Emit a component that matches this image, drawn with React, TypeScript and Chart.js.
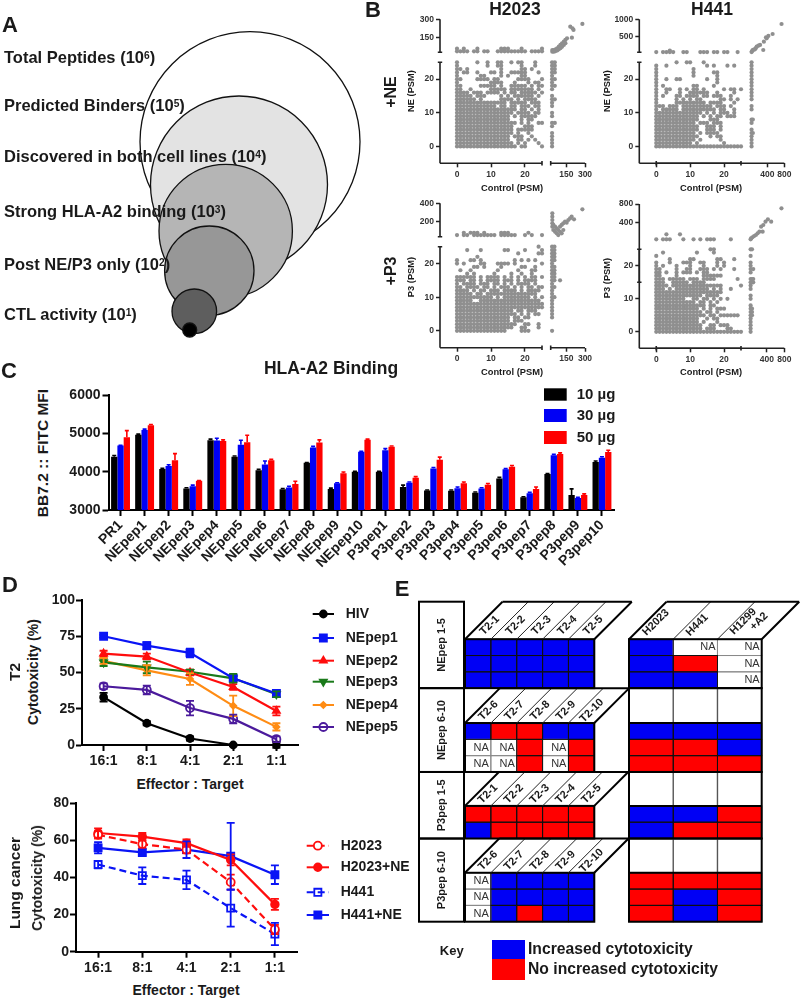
import React, { useEffect, useRef } from "react";
import { Chart, registerables, LinearScale } from "chart.js";
import { drawPoint } from "chart.js/helpers";

class BrokenScale extends (LinearScale as any) {
  static id = "broken";
  configure() {
    super.configure();
    (this as any)._segs = ((this as any).options.segs as any[]).map((s: any) => ({ lo: s.lo, hi: s.hi, f0: s.f0, f1: s.f1 }));
  }
  getPixelForValue(v: number) {
    const segs = (this as any)._segs;
    for (let i = 0; i < segs.length; i++) {
      const s = segs[i];
      if (v <= s.hi || i === segs.length - 1) {
        return (this as any).getPixelForDecimal(s.f0 + ((v - s.lo) / (s.hi - s.lo)) * (s.f1 - s.f0));
      }
    }
    return NaN;
  }
}
Chart.register(...registerables, BrokenScale as any);
const FONT = '"Liberation Sans", Arial, sans-serif';
Chart.defaults.font.family = FONT;
Chart.defaults.layout.autoPadding = false;

/* ---------- Panel A ---------- */
const funnelLabels = ["Total Peptides", "Predicted Binders", "Discovered in both cell lines", "Strong HLA-A2 binding", "Post NE/P3 only", "CTL activity"];
const funnelExponents = [6, 5, 4, 3, 2, 1];
const funnelCircleX = [250, 239, 225.7, 209.3, 194.3, 189.7];
const funnelCircleY = [141.7, 184.5, 231, 270.7, 311.3, 330];
const funnelCircleR = [110, 88.5, 66.7, 44.7, 22.3, 7];
const funnelFill = ["#ffffff", "#e3e3e3", "#b5b5b5", "#979797", "#5e5e5e", "#000000"];

/* ---------- Panel B, top row is y=25, bottom row is y=0 ---------- */
const h2023NeRows = [
  "#.....#..#..##..#.##...#..",
  "#........#..##.....#...#..",
  "##.#.........#.....##.#...",
  "#.##..#...##.#..#####...#.",
  "#......##....#.#...##.....",
  "##....####.##.....####...#",
  "#.........####...#...#.##.",
  "##.....#####.#..#####.#.##",
  "##..#.....#####.#######.#.",
  "####.###.####.#.##.#####.#",
  "#####.###....#.#.######.#.",
  "######.#.....####.#.####..",
  "###############.#####.###.",
  "############.##.##.###.##.",
  "##################.##.#.#.",
  "#################.####.##.",
  "################.#.#####..",
  "################...#.##...",
  "##################.#.#..##",
  "#################...###...",
  "#################.#####...",
  "#################.#..#....",
  "################.###..#...",
  "################..##.#.#..",
  "#################.#.#...#.",
  "##################.##....#",
];
const h441NeRows = [
  "......#..##...#...........",
  "#..#...........#.#...#.#..",
  "#..........#..............",
  "#..........#.....##.......",
  "#..........#......#.......",
  "#..#..##.......#..#.......",
  "#.................#.......",
  "#.#........##....#........",
  "#..##..#.#.##.#.....#.##.#",
  "#..#...#..######..#....#..",
  "#.#...##.####.##.###..#...",
  "#.....#.#.#.##.....##.#.#.",
  "#.....#########.####...#..",
  "###.###.#########.###.#...",
  "#.#####.##########.##..#..",
  "##############.#.#.###.#..",
  "#############.#.#.##.###..",
  "#############...###.......",
  "############.###.###......",
  "#############..###.#......",
  "#############..###.#......",
  "############.#.####.......",
  "#############...#.##......",
  "############.#.....#......",
  "###########.#.......#.....",
  "##########################",
];
const h2023P3Rows = [
  "........................#.",
  "...#...#......##....#....#",
  "..................#.....##",
  "......#...................",
  "#...##.#.........#.#.#.#..",
  "#.#....##...####.#.......#",
  ".....##.#....#.....##..#..",
  ".#..#.......#.....#...##..",
  "...#.#.....#....#..#..#...",
  "######.#.####.#.#.#.#.##.#",
  "###.##.#.####.###.#.####..",
  "#.####.###.##.#.#.####.#..",
  "##.####.##.#.###.#.#.##.##",
  "####.#.##.###.####.#.####.",
  "#####.##.###############..",
  "###########.#.########.#.#",
  "#####..##################.",
  "##########################",
  "##########################",
  "#################.##.###..",
  "##################.#.#.##.",
  "################.##.##....",
  "################.###......",
  "##################..##..#.",
  "#################..##...#.",
  "###############....###....",
];
const h441P3Rows = [
  "................##........",
  "..#.........#....#........",
  "#.........................",
  "....#.....##......##...#..",
  "#...#...###..##...#.#.....",
  "#.#...#...#...#...#.#.....",
  "##....#..##..###.#.#...#..",
  "##.#..#.###.#.##..........",
  "##....#.......######......",
  "###.#####.###.####......#.",
  "###..#####.####...........",
  "####.###############.....#",
  "###.#.##########.#.#..#...",
  "####################......",
  "##############.####.......",
  "#########..##.##.#.#.#....",
  "############.##.#.#.......",
  "###############.##........",
  "#############.#.#.###.....",
  "##############.##.#.......",
  "###############.##.######.",
  "#############..#.##.......",
  "#############.#...#.......",
  "##############..##.###....",
  "##############.###...##...",
  "##########################",
];
// points above the y break, x = 0..25
const h2023NeTop: [number, string][] = [[60, "#.#...#......###...#.....#"], [38, "####.##.##..#########.####"]];
const h441NeTop: [number, string][] = [[100, "....#....................."], [55, "#.####..##...###.##.##..#."]];
const h2023P3Top: [number, string][] = [[74, "..#.###.#....###.....#...."], [48, "#.##.#######.#####..#.#..#"]];
const h441P3Top: [number, string][] = [[139, "...#...#.................."], [30, "#.###...#..#.#.###....#..."]];
// points right of the x break, y index 0..25
const h2023NeRight: [number, string][] = [[36, "#####.##.##.####.#########"], [58, ".......#......#...#.#.####"]];
const h441NeRight: [number, string][] = [[30, "######.##..##.############"], [60, "....#...#................."]];
const h2023P3Right: [number, string][] = [[36, "#...######################"], [55, "..........#..#.#####.#####"]];
const h441P3Right: [number, string][] = [[30, "#########.##.####.####.#.#"], [62, ".....###.......##........#"]];
// points above both breaks
const h2023NeCluster = [[38, 35], [38, 49], [51, 35], [51, 49], [64, 54], [64, 40], [77, 63], [77, 45], [90, 76], [90, 54], [103, 90], [103, 63], [116, 104], [116, 76], [130, 117], [130, 90], [143, 131], [143, 104], [156, 145], [195, 150], [182, 240], [208, 213], [200, 226], [279, 262]];
const h441NeCluster = [[30, 55], [40, 75], [55, 115], [80, 125], [110, 135], [130, 170], [150, 210], [190, 240], [230, 260], [305, 115], [320, 355], [370, 480], [385, 450], [425, 520], [525, 576], [735, 864]];
const h2023P3Cluster = [[38, 289], [38, 252], [38, 215], [38, 178], [38, 141], [46, 160], [46, 104], [60, 141], [60, 85], [73, 122], [73, 67], [86, 104], [86, 48], [100, 141], [100, 85], [113, 160], [113, 67], [126, 178], [126, 104], [153, 185], [140, 196], [166, 215], [180, 233], [193, 252], [212, 222], [279, 333]];
const h441P3Cluster = [[30, 30], [40, 50], [70, 73], [110, 100], [150, 124], [190, 160], [230, 197], [305, 197], [270, 306], [320, 342], [370, 415], [425, 466], [500, 415], [735, 706]];

/* ---------- Panel C ---------- */
const bindingPeptides = ["PR1", "NEpep1", "NEpep2", "NEpep3", "NEpep4", "NEpep5", "NEpep6", "NEpep7", "NEpep8", "NEpep9", "NEpep10", "P3pep1", "P3pep2", "P3pep3", "P3pep4", "P3pep5", "P3pep6", "P3pep7", "P3pep8", "P3pep9", "P3pep10"];
const bind10 = [4390, 4960, 4070, 3560, 4820, 4390, 4040, 3540, 4230, 3550, 4000, 4000, 3600, 3510, 3500, 3450, 3820, 3330, 3940, 3390, 4250];
const bind30 = [4680, 5090, 4150, 3620, 4810, 4700, 4190, 3590, 4630, 3700, 4520, 4560, 3710, 4080, 3570, 3560, 4060, 3440, 4430, 3310, 4360];
const bind50 = [4900, 5210, 4300, 3760, 4800, 4770, 4300, 3680, 4760, 3960, 4830, 4650, 3840, 4310, 3700, 3660, 4130, 3550, 4460, 3390, 4510];
const bindErr10 = [30, 20, 20, 20, 30, 20, 20, 20, 10, 20, 10, 10, 50, 10, 20, 20, 30, 15, 10, 160, 30];
const bindErr30 = [10, 20, 30, 30, 60, 120, 90, 30, 30, 10, 10, 40, 20, 30, 30, 20, 20, 20, 20, 20, 30];
const bindErr50 = [170, 20, 170, 10, 30, 180, 20, 70, 70, 30, 20, 20, 30, 70, 30, 30, 30, 50, 30, 30, 50];

/* ---------- Panel D ---------- */
const ratios = ["16:1", "8:1", "4:1", "2:1", "1:1"];
const hiv = [33, 15, 4.5, 0, 0];
const hivErr = [3, 1.5, 1.5, 0.5, 2];
const nepep1 = [75, 68.5, 63.5, 46, 35.5];
const nepep1Err = [1, 2.5, 3, 2, 2];
const nepep2 = [63, 61, 50, 40, 23.5];
const nepep2Err = [2, 2, 2, 2, 3];
const nepep3 = [57, 53.5, 50.5, 46, 35];
const nepep3Err = [2.5, 4, 1.5, 3, 2];
const nepep4 = [58, 51.5, 45.5, 27, 12.5];
const nepep4Err = [2, 3.5, 4, 7, 2.5];
const nepep5 = [40.5, 38, 25.5, 18, 4];
const nepep5Err = [2, 3, 5, 3, 2];

const h2023 = [63, 58, 55, 37.5, 12];
const h2023Err = [2, 2, 2, 4, 2.5];
const h2023Ne = [64, 62, 58.5, 49.5, 25.5];
const h2023NeErr = [2.5, 2, 2, 3, 3];
const h441 = [47, 41, 38.7, 23.5, 9.5];
const h441Err = [2, 4.5, 5, 10, 6];
const h441Ne = [56, 53.5, 55, 51.5, 41.5];
const h441NeErr = [3, 1.5, 4.5, 18, 5];

/* ---------- Panel E ---------- */
const blockNames = ["NEpep 1-5", "NEpep 6-10", "P3pep 1-5", "P3pep 6-10"];
const blockRowCounts = [3, 3, 2, 3];
const headerHeights = [2.3, 2.14, 2.08, 2.1];
const t2Columns = [["T2-1", "T2-2", "T2-3", "T2-4", "T2-5"], ["T2-6", "T2-7", "T2-8", "T2-9", "T2-10"], ["T2-1", "T2-2", "T2-3", "T2-4", "T2-5"], ["T2-6", "T2-7", "T2-8", "T2-9", "T2-10"]];
const lungColumns = ["H2023", "H441", "H1299+A2"];
const t2Cells = ["BBBBB", "BBBBB", "BBBBB", "BRRBB", "NNRNR", "NNRNR", "RRRRR", "BRRRR", "NBBBB", "NBBBB", "NBRBB"];
const lungCells = ["BNN", "BRN", "BBN", "BBB", "RRB", "RRR", "BBR", "BRR", "RRR", "RBR", "RBR"];
const cellColor: Record<string, string> = { B: "#0000f5", R: "#ff0000", N: "#ffffff" };

/* ---------- helpers ---------- */
const fix = (w: number | null, h: number | null) => (s: any) => {
  if (w !== null) s.width = w;
  if (h !== null) s.height = h;
  s.paddingLeft = s.paddingRight = s.paddingTop = s.paddingBottom = 0;
};

const rowPoints = (rows: string[]) => {
  const out: { x: number; y: number }[] = [];
  rows.forEach((r, i) => r.split("").forEach((c, x) => { if (c === "#") out.push({ x, y: 25 - i }); }));
  return out;
};
const topPoints = (rows: [number, string][]) => {
  const out: { x: number; y: number }[] = [];
  rows.forEach(([y, r]) => r.split("").forEach((c, x) => { if (c === "#") out.push({ x, y }); }));
  return out;
};
const rightPoints = (cols: [number, string][]) => {
  const out: { x: number; y: number }[] = [];
  cols.forEach(([x, r]) => r.split("").forEach((c, y) => { if (c === "#") out.push({ x, y }); }));
  return out;
};

const breakAxes = {
  id: "breakAxes",
  afterDraw(chart: any) {
    const { ctx, chartArea: a } = chart;
    ctx.save();
    ctx.strokeStyle = "#222";
    ctx.lineWidth = 1.6;
    const xs = chart.scales.x._segs, ys = chart.scales.y._segs;
    const cap = 2.2;
    xs.forEach((s: any, i: number) => {
      const p0 = chart.scales.x.getPixelForValue(s.lo + (i ? 0.001 : 0)), p1 = chart.scales.x.getPixelForValue(s.hi);
      ctx.beginPath(); ctx.moveTo(p0, a.bottom); ctx.lineTo(p1, a.bottom);
      if (i === 0) { ctx.moveTo(p1, a.bottom - cap); ctx.lineTo(p1, a.bottom + cap); }
      else { ctx.moveTo(p0, a.bottom - cap); ctx.lineTo(p0, a.bottom + cap); }
      ctx.stroke();
    });
    ys.forEach((s: any, i: number) => {
      const p0 = chart.scales.y.getPixelForValue(s.lo + (i ? 0.001 : 0)), p1 = chart.scales.y.getPixelForValue(s.hi);
      ctx.beginPath(); ctx.moveTo(a.left, p0); ctx.lineTo(a.left, p1);
      if (i === 0) { ctx.moveTo(a.left - cap, p1); ctx.lineTo(a.left + cap, p1); }
      else { ctx.moveTo(a.left - cap, p0); ctx.lineTo(a.left + cap, p0); }
      ctx.stroke();
    });
    ctx.restore();
  },
};

const errorBars = (capHalf: number, upOnly: boolean, width: number) => ({
  id: "errorBars",
  afterDatasetsDraw(chart: any) {
    const { ctx } = chart;
    ctx.save();
    chart.data.datasets.forEach((ds: any, di: number) => {
      if (!ds.errors) return;
      const meta = chart.getDatasetMeta(di);
      const y = chart.scales.y;
      ctx.strokeStyle = ds.errorColor || ds.borderColor || ds.backgroundColor;
      ctx.lineWidth = width;
      ctx.setLineDash([]);
      meta.data.forEach((el: any, i: number) => {
        const v = ds.data[i], e = ds.errors[i];
        const hi = y.getPixelForValue(v + e), lo = y.getPixelForValue(upOnly ? v : v - e);
        ctx.beginPath();
        ctx.moveTo(el.x, lo); ctx.lineTo(el.x, hi);
        ctx.moveTo(el.x - capHalf, hi); ctx.lineTo(el.x + capHalf, hi);
        if (!upOnly) { ctx.moveTo(el.x - capHalf, lo); ctx.lineTo(el.x + capHalf, lo); }
        ctx.stroke();
      });
    });
    ctx.restore();
  },
});

// legend positions below are page coordinates: the canvas offset is taken off when drawing
const lineLegend = (cv: any, x0: number, x1: number, tx: number, ys: number[], font: string) => ({
  id: "lineLegend",
  afterDraw(chart: any) {
    const { ctx } = chart;
    ctx.save();
    ctx.translate(-cv.left, -cv.top);
    chart.data.datasets.forEach((ds: any, i: number) => {
      const y = ys[i];
      ctx.setLineDash(ds.borderDash || []);
      ctx.strokeStyle = ds.borderColor;
      ctx.lineWidth = 2;
      ctx.beginPath(); ctx.moveTo(x0, y); ctx.lineTo(x1, y); ctx.stroke();
      ctx.setLineDash([]);
      ctx.fillStyle = ds.pointBackgroundColor;
      ctx.strokeStyle = ds.borderColor;
      ctx.lineWidth = 1.8;
      drawPoint(ctx, { pointStyle: ds.pointStyle, rotation: ds.pointRotation || 0, radius: ds.pointRadius, borderWidth: 1.8 } as any, (x0 + x1) / 2, y);
      ctx.fillStyle = "#1a1a1a";
      ctx.font = font;
      ctx.textAlign = "left";
      ctx.textBaseline = "middle";
      ctx.fillText(ds.label, tx, y);
    });
    ctx.restore();
  },
});

const boxLegend = (cv: any, x0: number, x1: number, tx: number, rows: [number, number][], font: string) => ({
  id: "boxLegend",
  afterDraw(chart: any) {
    const { ctx } = chart;
    ctx.save();
    ctx.translate(-cv.left, -cv.top);
    chart.data.datasets.forEach((ds: any, i: number) => {
      const [t, b] = rows[i];
      ctx.fillStyle = ds.backgroundColor;
      ctx.fillRect(x0, t, x1 - x0, b - t);
      ctx.fillStyle = "#1a1a1a";
      ctx.font = font;
      ctx.textAlign = "left";
      ctx.textBaseline = "middle";
      ctx.fillText(ds.label, tx, (t + b) / 2);
    });
    ctx.restore();
  },
});

/* ---------- chart configs (canvas rect + config) ---------- */
const base = { responsive: false, animation: false as const, events: [] as any[] };

function funnelConfig() {
  return {
    type: "bubble",
    data: {
      datasets: [{
        label: "Peptide funnel",
        data: funnelExponents.map((_, i) => ({ x: funnelCircleX[i], y: funnelCircleY[i], r: funnelCircleR[i] })),
        backgroundColor: funnelFill,
        borderColor: "#111",
        borderWidth: 1.3,
        clip: false,
      }],
    },
    options: {
      ...base,
      layout: { autoPadding: false, padding: 0 },
      plugins: { legend: { display: false }, tooltip: { enabled: false } },
      scales: {
        x: { type: "linear", min: 0, max: 400, display: false },
        y: { type: "linear", min: 0, max: 350, reverse: true, display: false },
      },
    },
  };
}

type BP = { l: number; t: number; r: number; b: number; xa: number; xb: number; ya: number; yb: number; x2Min: number; xMax: number; y2Min: number; yMax: number; xTicks: number[]; yTicks: number[]; pts: any[] };

function brokenConfig(p: BP, cv: { left: number; top: number; width: number; height: number }) {
  const W = p.r - p.l, H = p.b - p.t;
  const tick = { font: { size: 8.5, weight: "bold" }, color: "#333", autoSkip: false, maxRotation: 0, minRotation: 0, padding: 2, callback: (v: any) => String(v) };
  const grid = { drawOnChartArea: false, tickLength: 4, tickColor: "#222", tickWidth: 1.5 };
  return {
    type: "scatter",
    data: { datasets: [{ label: "peptides", data: p.pts, pointRadius: 2.1, pointBackgroundColor: "#8f8f8f", pointBorderWidth: 0, showLine: false, clip: false }] },
    options: {
      ...base,
      layout: { autoPadding: false, padding: { top: p.t - cv.top, right: cv.left + cv.width - p.r, left: 0, bottom: 0 } },
      plugins: { legend: { display: false }, tooltip: { enabled: false } },
      scales: {
        x: {
          type: "broken", min: -5, max: p.xMax,
          segs: [{ lo: -5, hi: 25, f0: 0, f1: (p.xa - p.l) / W }, { lo: p.x2Min, hi: p.xMax, f0: (p.xb - p.l) / W, f1: 1 }],
          afterBuildTicks: (s: any) => { s.ticks = p.xTicks.map((value) => ({ value })); },
          afterFit: fix(null, cv.top + cv.height - p.b),
          ticks: tick, grid, border: { display: false },
        },
        y: {
          type: "broken", min: -5, max: p.yMax,
          segs: [{ lo: -5, hi: 25, f0: 0, f1: (p.b - p.ya) / H }, { lo: p.y2Min, hi: p.yMax, f0: (p.b - p.yb) / H, f1: 1 }],
          afterBuildTicks: (s: any) => { s.ticks = p.yTicks.map((value) => ({ value })); },
          afterFit: fix(p.l - cv.left, null),
          ticks: tick, grid, border: { display: false },
        },
      },
    },
    plugins: [breakAxes],
  };
}

function rect(l: number, t: number, r: number, b: number) { return { left: l, top: t, width: r - l, height: b - t }; }

const brokenPanels: { p: BP; cv: any }[] = [
  { cv: rect(400, 8, 600, 186), p: { l: 440, t: 19.3, r: 585, b: 163.3, xa: 542, xb: 550.7, ya: 62.3, yb: 52.3, x2Min: 25, xMax: 300, y2Min: 30, yMax: 300, xTicks: [0, 10, 20, 150, 300], yTicks: [0, 10, 20, 150, 300], pts: [...rowPoints(h2023NeRows), ...topPoints(h2023NeTop), ...rightPoints(h2023NeRight), ...h2023NeCluster.map(([x, y]) => ({ x, y }))] } },
  { cv: rect(600, 8, 796, 186), p: { l: 639.3, t: 19.3, r: 784.3, b: 163.3, xa: 741, xb: 750.3, ya: 62.3, yb: 52.3, x2Min: 0, xMax: 800, y2Min: 48, yMax: 1000, xTicks: [0, 10, 20, 400, 800], yTicks: [0, 10, 20, 500, 1000], pts: [...rowPoints(h441NeRows), ...topPoints(h441NeTop), ...rightPoints(h441NeRight), ...h441NeCluster.map(([x, y]) => ({ x, y }))] } },
  { cv: rect(400, 194, 600, 370), p: { l: 440, t: 203.3, r: 585, b: 347.7, xa: 542, xb: 550.7, ya: 246.7, yb: 236.7, x2Min: 25, xMax: 300, y2Min: 30, yMax: 400, xTicks: [0, 10, 20, 150, 300], yTicks: [0, 10, 20, 200, 400], pts: [...rowPoints(h2023P3Rows), ...topPoints(h2023P3Top), ...rightPoints(h2023P3Right), { x: 100, y: 15 }, ...h2023P3Cluster.map(([x, y]) => ({ x, y }))] } },
  { cv: rect(600, 194, 796, 370), p: { l: 639.3, t: 204, r: 784.3, b: 348.3, xa: 741, xb: 749.3, ya: 249.3, yb: 240, x2Min: 0, xMax: 800, y2Min: 15, yMax: 800, xTicks: [0, 10, 20, 400, 800], yTicks: [0, 10, 20, 400, 800], pts: [...rowPoints(h441P3Rows), ...topPoints(h441P3Top), ...rightPoints(h441P3Right), { x: 90, y: 15 }, { x: 90, y: 16 }, { x: 90, y: 19 }, ...h441P3Cluster.map(([x, y]) => ({ x, y }))] } },
];

function bindingConfig() {
  const cv = { left: 60, top: 380, right: 622, bottom: 575 };
  const font = { size: 14, weight: "bold" };
  const box = rect(cv.left, cv.top, cv.right, cv.bottom);
  const mk = (label: string, data: number[], errors: number[], color: string) => ({ label, data, errors, backgroundColor: color, errorColor: color, categoryPercentage: 0.785, barPercentage: 1 });
  return {
    cv: box,
    cfg: {
      type: "bar",
      data: { labels: bindingPeptides, datasets: [mk("10 µg", bind10, bindErr10, "#000000"), mk("30 µg", bind30, bindErr30, "#0000f5"), mk("50 µg", bind50, bindErr50, "#ff0000")] },
      options: {
        ...base,
        layout: { autoPadding: false, padding: { top: 395 - cv.top, right: cv.right - 614, left: 0, bottom: 0 } },
        plugins: { legend: { display: false }, tooltip: { enabled: false } },
        scales: {
          x: {
            grid: { drawOnChartArea: false, offset: false, tickLength: 6, tickColor: "#000", tickWidth: 2 },
            border: { color: "#000", width: 2 },
            ticks: { font, color: "#1a1a1a", autoSkip: false, minRotation: 45, maxRotation: 45, padding: 1 },
            afterFit: fix(null, cv.bottom - 510),
          },
          y: {
            min: 3000, max: 6000,
            grid: { drawOnChartArea: false, tickLength: 6, tickColor: "#000", tickWidth: 2 },
            border: { color: "#000", width: 2 },
            ticks: { font, color: "#1a1a1a", stepSize: 1000, padding: 2, callback: (v: any) => String(v) },
            afterFit: fix(108.5 - cv.left, null),
          },
        },
      },
      plugins: [errorBars(2, true, 1.6), boxLegend(box, 544, 566.7, 576.7, [[388.3, 400.7], [409, 422], [431, 444]], `bold 15px ${FONT}`)],
    },
  };
}

function lineConfig(o: { cv: any; area: any; yMax: number; step: number; datasets: any[]; legend: any }) {
  const font = { size: 14, weight: "bold" };
  const { cv, area } = o;
  const grid = { drawOnChartArea: false, tickLength: 6, tickColor: "#000", tickWidth: 2 };
  return {
    type: "line",
    data: { labels: ratios, datasets: o.datasets },
    options: {
      ...base,
      layout: { autoPadding: false, padding: { top: area.t - cv.top, right: cv.left + cv.width - area.r, left: 0, bottom: 0 } },
      plugins: { legend: { display: false }, tooltip: { enabled: false } },
      scales: {
        x: { offset: true, grid, border: { color: "#000", width: 2 }, ticks: { font, color: "#1a1a1a", padding: 2, maxRotation: 0 }, afterFit: fix(null, cv.top + cv.height - area.b) },
        y: { min: 0, max: o.yMax, grid, border: { color: "#000", width: 2 }, ticks: { font, color: "#1a1a1a", stepSize: o.step, padding: 1 }, afterFit: fix(area.l - cv.left, null) },
      },
    },
    plugins: [errorBars(4, false, 1.8), o.legend],
  };
}

const series = (label: string, data: number[], errors: number[], color: string, style: string, r: number, extra: any = {}) => ({
  label, data, errors, borderColor: color, errorColor: color, borderWidth: 2.2, tension: 0,
  pointStyle: style, pointRadius: r, pointBackgroundColor: color, pointBorderColor: color, pointBorderWidth: 1.8, clip: false, ...extra,
});

const t2Box = rect(45, 590, 410, 768);
const lungBox = rect(40, 793, 410, 975);
const t2Chart = lineConfig({
  cv: t2Box, area: { l: 82, r: 298, t: 600, b: 745 }, yMax: 100, step: 25,
  datasets: [
    series("HIV", hiv, hivErr, "#000000", "circle", 3.5),
    series("NEpep1", nepep1, nepep1Err, "#0a14f5", "rect", 5),
    series("NEpep2", nepep2, nepep2Err, "#ff0d0d", "triangle", 4),
    series("NEpep3", nepep3, nepep3Err, "#1a7a1a", "triangle", 4, { pointRotation: 180 }),
    series("NEpep4", nepep4, nepep4Err, "#ff8c14", "rectRot", 3),
    series("NEpep5", nepep5, nepep5Err, "#4b1a9c", "circle", 4, { pointBackgroundColor: "rgba(0,0,0,0)" }),
  ],
  legend: lineLegend(t2Box, 312.7, 334, 345.7, [614, 638, 660.7, 681.7, 705, 727], `bold 14px ${FONT}`),
});
const lungChart = lineConfig({
  cv: lungBox, area: { l: 76, r: 297, t: 803.3, b: 951.7 }, yMax: 80, step: 20,
  datasets: [
    series("H2023", h2023, h2023Err, "#ff0d0d", "circle", 4, { pointBackgroundColor: "#ffffff", borderDash: [7, 4] }),
    series("H2023+NE", h2023Ne, h2023NeErr, "#ff0d0d", "circle", 3.8),
    series("H441", h441, h441Err, "#0a14f5", "rect", 5, { pointBackgroundColor: "rgba(0,0,0,0)", borderDash: [7, 4] }),
    series("H441+NE", h441Ne, h441NeErr, "#0a14f5", "rect", 5),
  ],
  legend: lineLegend(lungBox, 306.7, 329, 340.7, [845.7, 867.3, 892.3, 915], `bold 14px ${FONT}`),
});

/* Panel E : stacked bars, one dataset per row, the first block's header included */
function gridDatasets(cells: string[], cols: number) {
  const out: any[] = [];
  let r = 0;
  blockRowCounts.forEach((n, b) => {
    out.push({ label: "header " + b, data: Array(cols).fill(headerHeights[b]), backgroundColor: "rgba(0,0,0,0)", header: true });
    for (let i = 0; i < n; i++, r++) {
      out.push({ label: "row " + r, data: Array(cols).fill(1), backgroundColor: cells[r].split("").map((c) => cellColor[c]), codes: cells[r] });
    }
  });
  return out;
}

function blockBounds() {
  let u = 0;
  return blockRowCounts.map((n, b) => {
    const top = u, dataTop = u + headerHeights[b], bottom = dataTop + n;
    u = bottom;
    return { top, dataTop, bottom };
  });
}
const totalUnits = blockRowCounts.reduce((a, b) => a + b, 0) + headerHeights.reduce((a, b) => a + b, 0);

function strokeCells(chart: any) {
  const { ctx } = chart;
  const pass = (na: boolean) => chart.data.datasets.forEach((ds: any, di: number) => {
    if (!ds.codes) return;
    chart.getDatasetMeta(di).data.forEach((el: any, i: number) => {
      const isNa = ds.codes[i] === "N";
      if (isNa !== na) return;
      ctx.strokeStyle = na ? "#8a8a8a" : "#101010";
      ctx.lineWidth = 1;
      ctx.strokeRect(el.x - el.width / 2, el.y, el.width, el.base - el.y);
      if (na) {
        ctx.fillStyle = "#333";
        ctx.font = `11px ${FONT}`;
        ctx.textAlign = "right";
        ctx.textBaseline = "middle";
        ctx.fillText("NA", el.x + el.width / 2 - 2, (el.y + el.base) / 2);
      }
    });
  });
  pass(true);
  pass(false);
}

function rotLabel(ctx: any, text: string, x: number, y: number, angle: number, font: string) {
  ctx.save();
  ctx.translate(x, y);
  ctx.rotate(angle);
  ctx.fillStyle = "#1a1a1a";
  ctx.font = font;
  ctx.textAlign = "center";
  ctx.textBaseline = "middle";
  ctx.fillText(text, 0, 0);
  ctx.restore();
}

const thick = (ctx: any) => { ctx.strokeStyle = "#000"; ctx.lineWidth = 2; };
const thin = (ctx: any) => { ctx.strokeStyle = "#222"; ctx.lineWidth = 1; };

const t2Overlay = {
  id: "t2Overlay",
  afterDatasetsDraw(chart: any) {
    const { ctx, chartArea: a, scales } = chart;
    ctx.save();
    strokeCells(chart);
    const y = (u: number) => scales.y.getPixelForValue(u);
    const colW = a.width / 5;
    blockBounds().forEach((b, k) => {
      const top = y(b.top), base = y(b.dataTop), bot = y(b.bottom), h = base - top;
      thick(ctx);
      ctx.strokeRect(a.left, base, a.width, bot - base);
      ctx.strokeRect(a.left - 46, top, 45, bot - top);
      for (let c = 0; c <= 5; c++) {
        const x = a.left + c * colW;
        if (c === 0 || c === 5) thick(ctx); else thin(ctx);
        ctx.beginPath(); ctx.moveTo(x, base); ctx.lineTo(x + h, top); ctx.stroke();
        if (c < 5) rotLabel(ctx, t2Columns[k][c], x + colW / 2 + h / 2 - 7, base - h / 2 + 5, -Math.PI / 4, `bold 11px ${FONT}`);
      }
      thick(ctx);
      ctx.beginPath(); ctx.moveTo(a.left + h, top); ctx.lineTo(a.right + h, top); ctx.stroke();
      rotLabel(ctx, blockNames[k], a.left - 23.5, (top + bot) / 2, -Math.PI / 2, `bold 11px ${FONT}`);
    });
    ctx.restore();
  },
};

const lungOverlay = {
  id: "lungOverlay",
  afterDatasetsDraw(chart: any) {
    const { ctx, chartArea: a, scales } = chart;
    ctx.save();
    strokeCells(chart);
    const y = (u: number) => scales.y.getPixelForValue(u);
    const colW = a.width / 3;
    blockBounds().forEach((b, k) => {
      const top = y(b.top), base = y(b.dataTop), bot = y(b.bottom), h = base - top;
      if (k === 0) {
        for (let c = 0; c <= 3; c++) {
          const x = a.left + c * colW;
          if (c === 0 || c === 3) thick(ctx); else thin(ctx);
          ctx.beginPath(); ctx.moveTo(x, base); ctx.lineTo(x + h, top); ctx.stroke();
        }
        thick(ctx);
        ctx.beginPath(); ctx.moveTo(a.left + h, top); ctx.lineTo(a.right + h, top); ctx.stroke();
        const f = `bold 11px ${FONT}`;
        const mid = (c: number) => a.left + (c + 0.5) * colW + h / 2;
        rotLabel(ctx, lungColumns[0], mid(0) - 14, base - h / 2 + 2, -Math.PI / 4, f);
        rotLabel(ctx, lungColumns[1], mid(1) - 17, base - h / 2 + 4.5, -Math.PI / 4, f);
        rotLabel(ctx, lungColumns[2].slice(0, 5), mid(2) - 15, base - h / 2 + 1, -Math.PI / 4, f);
        rotLabel(ctx, lungColumns[2].slice(5), mid(2) + 0.7, base - h / 2 + 1, -Math.PI / 4, f);
        thick(ctx);
        ctx.strokeRect(a.left, base, a.width, bot - base);
      } else {
        ctx.strokeStyle = "#555"; ctx.lineWidth = 1.4;
        for (let c = 1; c < 3; c++) {
          const x = a.left + c * colW;
          ctx.beginPath(); ctx.moveTo(x, top); ctx.lineTo(x, base); ctx.stroke();
        }
        thick(ctx);
        ctx.strokeRect(a.left, top, a.width, bot - top);
        ctx.beginPath(); ctx.moveTo(a.left, base); ctx.lineTo(a.right, base); ctx.stroke();
      }
    });
    ctx.restore();
  },
};

function gridConfig(labels: string[], cells: string[], overlay: any, cv: any, area: any) {
  return {
    type: "bar",
    data: { labels, datasets: gridDatasets(cells, labels.length) },
    options: {
      ...base,
      layout: { autoPadding: false, padding: { left: area.l - cv.left, right: cv.left + cv.width - area.r, top: area.t - cv.top, bottom: cv.top + cv.height - area.b } },
      datasets: { bar: { categoryPercentage: 1, barPercentage: 1, borderWidth: 0 } },
      plugins: { legend: { display: false }, tooltip: { enabled: false } },
      scales: {
        x: { stacked: true, display: false },
        y: { stacked: true, display: false, reverse: true, min: 0, max: totalUnits },
      },
    },
    plugins: [overlay],
  };
}

/* ---------- React ---------- */
function Panel({ cv, make }: { cv: any; make: () => any }) {
  const ref = useRef<HTMLCanvasElement>(null);
  useEffect(() => {
    const chart = new Chart(ref.current as any, make());
    return () => chart.destroy();
  }, []);
  return <canvas ref={ref} width={cv.width} height={cv.height} style={{ position: "absolute", left: cv.left, top: cv.top, width: cv.width, height: cv.height }} />;
}

function T({ x, y, size, rot = 0, bold = true, anchor = "center", children }: any) {
  const tx = anchor === "left" ? "0" : "-50%";
  return (
    <div style={{ position: "absolute", left: x, top: y, transform: `translate(${tx},-50%) rotate(${rot}deg)`, fontSize: size, fontWeight: bold ? 700 : 400, fontFamily: FONT, color: "#1a1a1a", whiteSpace: "nowrap", lineHeight: 1 }}>
      {children}
    </div>
  );
}

const funnelTextY = [57.3, 105, 156, 211, 264.3, 314];

export default function App() {
  useEffect(() => { document.body.style.margin = "0"; }, []);
  const cLeft = rect(415, 595, 640, 928);
  const cRight = rect(622, 595, 800, 928);
  const binding = bindingConfig();
  return (
    <div style={{ position: "relative", width: 800, height: 998, background: "#fff", overflow: "hidden", filter: "blur(0.45px)" }}>
      <Panel cv={rect(0, 0, 400, 350)} make={funnelConfig} />
      {brokenPanels.map((b, i) => <Panel key={i} cv={b.cv} make={() => brokenConfig(b.p, b.cv)} />)}
      <Panel cv={binding.cv} make={() => binding.cfg} />
      <Panel cv={t2Box} make={() => t2Chart} />
      <Panel cv={lungBox} make={() => lungChart} />
      <Panel cv={cRight} make={() => gridConfig(lungColumns, lungCells, lungOverlay, cRight, { l: 629, r: 761.7, t: 601.7, b: 921.7 })} />
      <Panel cv={cLeft} make={() => gridConfig(t2Columns[0], t2Cells, t2Overlay, cLeft, { l: 465, r: 594.3, t: 601.7, b: 921.7 })} />

      <T x={10} y={25} size={22}>A</T>
      <T x={373} y={10} size={22}>B</T>
      <T x={9} y={371} size={22}>C</T>
      <T x={10} y={585} size={22}>D</T>
      <T x={402} y={589} size={22}>E</T>

      {funnelLabels.map((s, i) => (
        <T key={s} x={4} y={funnelTextY[i]} size={16.5} anchor="left">
          {s} (10<span style={{ fontSize: "0.62em", position: "relative", top: "-0.42em" }}>{funnelExponents[i]}</span>)
        </T>
      ))}

      <T x={515} y={10} size={17.5}>H2023</T>
      <T x={712} y={10} size={17.5}>H441</T>
      <T x={391} y={92} size={16} rot={-90}>+NE</T>
      <T x={391} y={271} size={16} rot={-90}>+P3</T>
      <T x={412} y={91} size={9.3} rot={-90}>NE (PSM)</T>
      <T x={608} y={91} size={9.3} rot={-90}>NE (PSM)</T>
      <T x={412} y={277} size={9.3} rot={-90}>P3 (PSM)</T>
      <T x={608} y={278} size={9.3} rot={-90}>P3 (PSM)</T>
      <T x={512} y={189} size={9.3}>Control (PSM)</T>
      <T x={711} y={189} size={9.3}>Control (PSM)</T>
      <T x={512} y={373} size={9.3}>Control (PSM)</T>
      <T x={711} y={373} size={9.3}>Control (PSM)</T>

      <T x={331} y={369.3} size={17.5}>HLA-A2 Binding</T>
      <T x={43} y={452.7} size={15.5} rot={-90}>BB7.2 :: FITC MFI</T>

      <T x={15} y={671.7} size={15.5} rot={-90}>T2</T>
      <T x={33} y={672} size={14} rot={-90}>Cytotoxicity (%)</T>
      <T x={190} y={784} size={14}>Effector : Target</T>
      <T x={15} y={883} size={15.5} rot={-90}>Lung cancer</T>
      <T x={36.7} y={878} size={14} rot={-90}>Cytotoxicity (%)</T>
      <T x={186} y={990} size={14}>Effector : Target</T>

      <T x={451.7} y={950} size={13}>Key</T>
      <div style={{ position: "absolute", left: 491.7, top: 940, width: 33.3, height: 19, background: "#0000f5" }} />
      <div style={{ position: "absolute", left: 491.7, top: 959, width: 33.3, height: 21, background: "#ff0000" }} />
      <T x={528} y={949} size={15.7} anchor="left">Increased cytotoxicity</T>
      <T x={528} y={969} size={15.7} anchor="left">No increased cytotoxicity</T>
    </div>
  );
}
